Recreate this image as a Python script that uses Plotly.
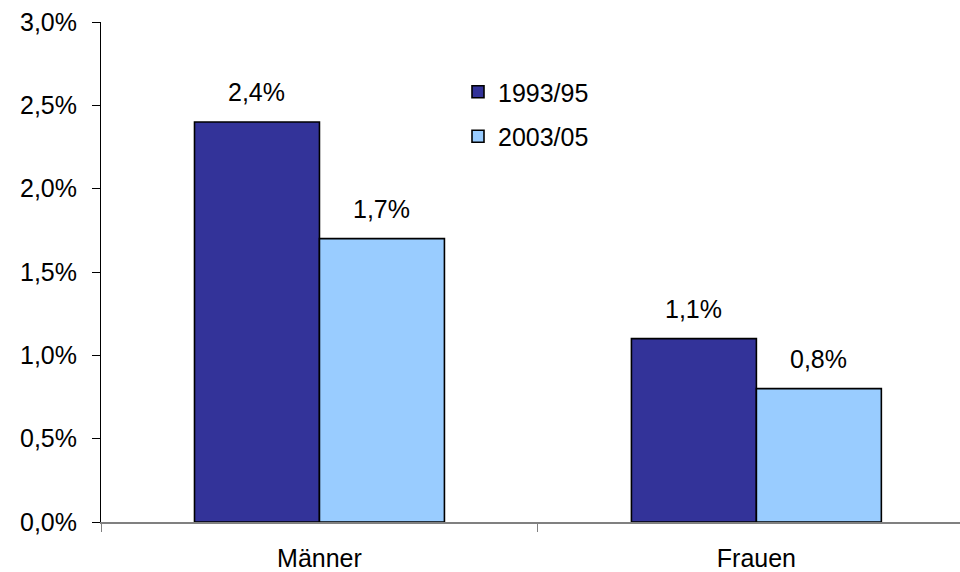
import plotly.graph_objects as go

categories = ["Männer", "Frauen"]
series_names = ["1993/95", "2003/05"]
values_1993 = [0.024, 0.011]
values_2003 = [0.017, 0.008]
colors = ["#333399", "#99CCFF"]
y_ticks = [0, 0.005, 0.01, 0.015, 0.02, 0.025, 0.03]

FONT = "Liberation Sans, Arial, sans-serif"
FS = 25
fig = go.Figure()
series = [values_1993, values_2003]
for i, (name, vals) in enumerate(zip(series_names, series)):
    fig.add_trace(go.Bar(
        x=categories, y=vals, name=name, legendgroup=name,
        marker=dict(color=colors[i], line=dict(color="#000000", width=1.6)),
    ))

# data labels above bars
bar_px = 125
for i, vals in enumerate(series):
    shift = (-0.5 if i == 0 else 0.5) * bar_px
    for c, v in zip(categories, vals):
        fig.add_annotation(
            x=c, y=v, xref="x", yref="y", text=f"{v*100:.1f}%".replace(".", ","),
            showarrow=False, xshift=shift, yshift=30, yanchor="middle",
            font=dict(family=FONT, size=FS, color="#000000"),
        )

fig.update_layout(
    width=960, height=572,
    margin=dict(l=101, r=0, t=22, b=50),
    paper_bgcolor="white", plot_bgcolor="white",
    separators=",.",
    barmode="group", bargap=0.428, bargroupgap=0,
    font=dict(family=FONT, size=FS, color="#000000"),
    showlegend=True,
    legend=dict(
        x=(458 - 101) / 859, y=1 - (69 - 22) / 500, xanchor="left", yanchor="top",
        bgcolor="rgba(0,0,0,0)", font=dict(size=FS), tracegroupgap=9,
        traceorder="grouped",
    ),
)
fig.update_xaxes(
    type="category", range=[-0.5, 1.466], showgrid=False,
    showline=True, linecolor="#808080", linewidth=1.5,
    ticks="outside", tickson="boundaries", ticklen=8, tickcolor="#808080",
    ticklabelstandoff=13,
)
fig.update_yaxes(
    range=[0, 0.03], tickvals=y_ticks, tickformat=".1%", showgrid=False,
    showline=True, linecolor="#000000", linewidth=1,
    ticks="outside", ticklen=8, tickcolor="#000000",
    ticklabelstandoff=10, zeroline=False,
)

fig.write_html("out.html")
